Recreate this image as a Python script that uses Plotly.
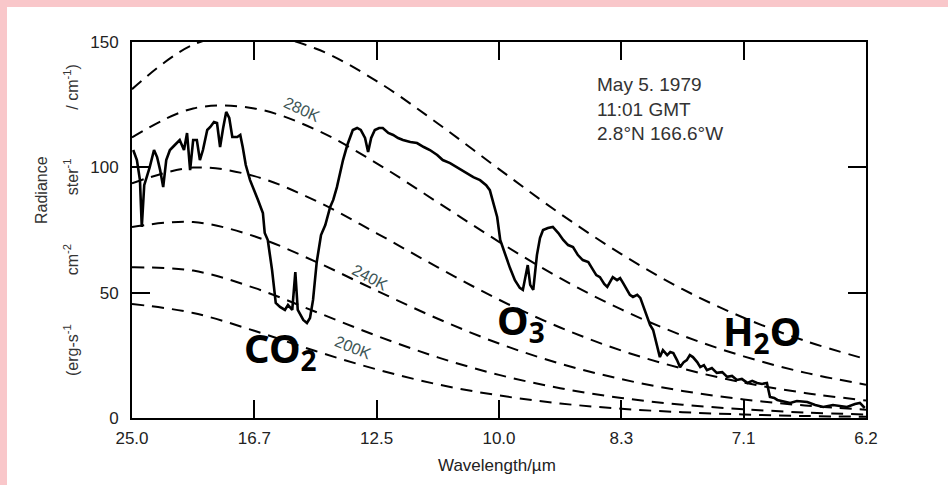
import plotly.graph_objects as go

# ---- data ----
# measured spectrum: wavenumber (cm^-1) and radiance
nu_spec = [402,408,413,416,420,429,436,441,446,451,
           456,462,470,478,485,490,495,500,506,511,
           516,523,528,534,539,544,549,554,559,564,
           572,577,581,586,593,599,606,614,617,622,
           629,635,642,650,655,662,667,671,680,686,
           691,696,702,709,716,724,729,735,745,752,
           756,761,768,774,781,786,791,797,804,810,
           819,827,835,843,855,866,877,887,899,908,
           920,931,944,958,969,979,985,992,997,1002,
           1010,1018,1026,1034,1039,1044,1047,1051,1056,1062,
           1067,1072,1080,1088,1097,1105,1113,1121,1129,1137,
           1146,1152,1159,1165,1172,1177,1182,1186,1193,1198,
           1203,1209,1214,1219,1226,1231,1236,1242,1247,1252,
           1258,1263,1268,1275,1280,1285,1291,1296,1302,1307,
           1312,1317,1324,1329,1335,1340,1348,1356,1365,1373,
           1381,1389,1397,1406,1414,1422,1430,1438,1443,1450,
           1455,1464,1476,1487,1504,1517,1530,1546,1558,1569,
           1582,1590,1598]
rad_spec = [106.9,102.9,94.9,76.2,92.9,100.1,106.9,104.1,98.9,92.1,
            102.9,106.9,108.9,110.9,106.9,113.7,98.9,110.9,110.9,102.9,
            106.9,114.9,116.1,118.1,117.7,108.1,115.7,122.1,119.7,112.1,
            112.1,112.9,108.1,100.9,94.9,90.9,87.0,81.8,73.8,71.0,
            59.0,45.9,44.3,43.1,45.1,43.1,58.2,43.1,39.1,37.9,
            39.9,47.1,62.2,73.0,77.0,84.2,87.0,92.1,102.9,108.9,
            111.7,114.9,115.7,114.9,111.7,106.1,111.7,114.9,115.7,115.7,
            113.7,112.9,111.7,110.9,110.1,109.7,108.1,106.9,104.9,102.9,
            101.7,100.1,98.1,96.1,94.9,92.9,90.9,85.0,80.2,71.0,
            65.0,59.8,55.0,51.9,51.1,57.0,61.0,53.1,51.1,65.0,
            71.8,75.0,75.8,76.2,73.8,71.0,69.0,68.2,65.0,63.0,
            62.2,59.8,57.0,56.2,53.5,52.3,54.2,56.2,55.0,55.8,
            53.8,51.1,49.1,48.3,49.1,47.9,44.3,40.3,37.1,35.1,
            29.1,24.3,27.1,25.1,26.3,25.9,23.1,20.3,22.3,23.1,
            25.1,24.3,22.3,20.3,21.1,19.1,19.9,18.0,18.3,16.4,
            16.8,15.2,15.6,14.0,14.8,14.0,13.6,14.0,8.4,8.0,
            7.2,6.8,6.0,6.8,6.4,5.2,4.4,5.2,4.8,4.4,
            5.6,6.0,4.0]

# blackbody reference curves (dashed)
nu_ref = [400,500,600,700,800,900,1000,1100,1200,1300,1400,1500,1600]
bb_300 = [131.2,148.9,153.4,147.4,134.4,117.5,99.3,81.5,65.4,51.4,40.0,30.8,23.5]
bb_280 = [111.9,123.5,123.5,115.1,101.6,86.0,70.3,55.8,43.3,32.9,24.6,18.1,13.3]
bb_260 = [93.6,99.9,96.5,86.7,73.7,60.1,47.2,36.1,26.9,19.7,14.1,10.0,7.0]
bb_240 = [76.2,78.2,72.5,62.4,50.8,39.6,29.7,21.7,15.5,10.8,7.4,5.0,3.3]
bb_220 = [60.1,58.8,51.9,42.4,32.8,24.2,17.2,11.9,8.0,5.3,3.5,2.2,1.4]
bb_200 = [45.5,41.9,34.8,26.7,19.4,13.4,9.0,5.8,3.7,2.3,1.4,0.8,0.5]

x_tickvals = [400,600,800,1000,1200,1400,1600]
x_ticktext = ["25.0","16.7","12.5","10.0","8.3","7.1","6.2"]
y_tickvals = [0,50,100,150]

# ---- figure ----
fig = go.Figure()
for bb in [bb_300, bb_280, bb_260, bb_240, bb_220, bb_200]:
    fig.add_trace(go.Scatter(x=nu_ref, y=bb, mode="lines",
                             line=dict(color="black", width=2, dash="12px,8px", shape="spline"),
                             showlegend=False, hoverinfo="skip"))
fig.add_trace(go.Scatter(x=nu_spec, y=rad_spec, mode="lines",
                         line=dict(color="black", width=2.6),
                         showlegend=False))

font_main = "Liberation Sans Narrow, Liberation Sans, Arial, sans-serif"

axis_common = dict(showgrid=False, zeroline=False, showline=True, linecolor="black",
                   linewidth=2, mirror="ticks", ticks="inside", ticklen=18, tickwidth=2,
                   tickcolor="black", tickfont=dict(family=font_main, size=17, color="#222"))

fig.update_layout(
    width=948, height=485,
    margin=dict(l=132, r=82, t=42, b=67),
    paper_bgcolor="white", plot_bgcolor="white",
    xaxis=dict(range=[400, 1600], tickvals=x_tickvals, ticktext=x_ticktext,
               ticklabelstandoff=4, **axis_common),
    yaxis=dict(range=[0, 150], tickvals=y_tickvals, ticklabelstandoff=8, **axis_common),
    showlegend=False,
)

pink = "rgb(249,199,202)"
fig.add_shape(type="rect", xref="paper", yref="paper", layer="below",
              x0=-0.2, x1=1.2, y0=(418-7)/376, y1=1.2, fillcolor=pink, line_width=0)
fig.add_shape(type="rect", xref="paper", yref="paper", layer="below",
              x0=-0.2, x1=(7-132)/734, y0=-0.2, y1=1.2, fillcolor=pink, line_width=0)

ann = []
nb = "\u00a0"
ann.append(dict(text="Radiance", xref="paper", yref="paper", x=(42-132)/734, y=(418-190)/376,
                xanchor="center", yanchor="middle",
                textangle=-90, showarrow=False, font=dict(family=font_main, size=16, color="#333")))
units = ("(erg-s<sup>-1</sup>" + nb*11 + "cm<sup>-2</sup>" + nb*11 + "ster<sup>-1</sup>"
         + nb*11 + "/ cm<sup>-1</sup>)")
ann.append(dict(text=units, xref="paper", yref="paper", x=(71-132)/734, y=(418-220)/376,
                xanchor="center", yanchor="middle",
                textangle=-90, showarrow=False, font=dict(family=font_main, size=16, color="#333")))
ann.append(dict(text="Wavelength/µm", xref="paper", yref="paper", x=(497-132)/734, y=(418-465)/376,
                xanchor="center", yanchor="middle",
                showarrow=False, font=dict(family=font_main, size=17, color="#222")))
ann.append(dict(text="May 5. 1979<br>11:01 GMT<br>2.8°N 166.6°W", x=1157, y=138,
                xanchor="left", yanchor="top", align="left", showarrow=False,
                font=dict(family=font_main, size=19, color="#333")))
tcol = "#3d5555"
ann.append(dict(text="280K", x=678, y=123, textangle=25, showarrow=False,
                font=dict(family=font_main, size=16, color=tcol)))
ann.append(dict(text="240K", x=789, y=56, textangle=28, showarrow=False,
                font=dict(family=font_main, size=16, color=tcol)))
ann.append(dict(text="200K", x=761, y=28, textangle=22, showarrow=False,
                font=dict(family=font_main, size=16, color=tcol)))
bigfont = dict(family="Noto Sans, Open Sans, sans-serif", size=40, color="black")
ann.append(dict(text="<b>CO<sub>2</sub></b>", x=643, y=27.5, showarrow=False, font=bigfont))
ann.append(dict(text="<b>O<sub>3</sub></b>", x=1036, y=38.5, showarrow=False, font=bigfont))
ann.append(dict(text="<b>H<sub>2</sub>O</b>", x=1430, y=34, showarrow=False, font=bigfont))
fig.update_layout(annotations=ann)

fig.write_html("out.html", config={"displayModeBar": False},
               post_script="document.body.style.margin='0';document.body.style.padding='0';")
